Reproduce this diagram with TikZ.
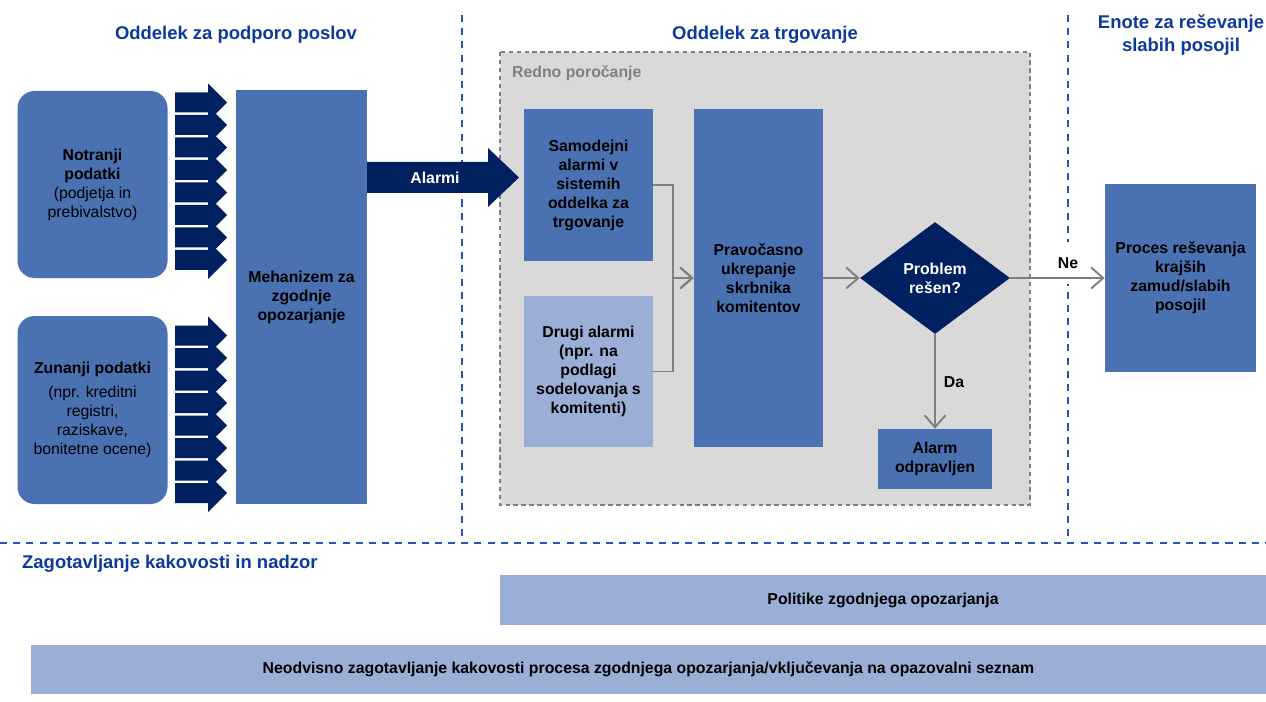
\documentclass[tikz,border=0pt]{standalone}
\usepackage{fontspec}
\setmainfont{Liberation Sans}
\usepackage{tikz}
\usetikzlibrary{arrows.meta}
\usetikzlibrary{shapes.geometric}

\definecolor{midblue}{HTML}{4A72B2}
\definecolor{navy}{HTML}{002060}
\definecolor{paleblue}{HTML}{9BAFD6}
\definecolor{headblue}{HTML}{0B3A9C}
\definecolor{lineblue}{HTML}{2A52B4}
\definecolor{panelgrey}{HTML}{D9D9D9}
\definecolor{darkgrey}{HTML}{7F7F7F}

\begin{document}
\begin{tikzpicture}[x=0.02cm, y=-0.02cm,
	box/.style 2 args={fill=midblue, inner sep=0pt, minimum width=#1*0.02cm, minimum height=#2*0.02cm, align=center, font=\bfseries\fontsize{9}{10.8}\selectfont},
	roundbox/.style 2 args={box={#1}{#2}, rounded corners=0.34cm},
	lightbox/.style 2 args={box={#1}{#2}, fill=paleblue},
	heading/.style={text=headblue, align=center, font=\bfseries\fontsize{10.5}{13}\selectfont},
	divider/.style={lineblue, line width=1.2pt, dash pattern=on 4pt off 3.5pt},
	conn/.style={darkgrey, line width=1.1pt, -{Straight Barb[length=2.4mm, width=4.2mm, line width=1.1pt]}},
	tag/.style={font=\bfseries\fontsize{9}{10.8}\selectfont}]
	\useasboundingbox (0,0) rectangle (1266,702);

	\filldraw[fill=panelgrey, draw=darkgrey, line width=0.8pt, dash pattern=on 2.5pt off 2pt] (500,52) rectangle (1030,505);
	\draw[divider] (462,15) -- (462,543);
	\draw[divider] (1068,15) -- (1068,543);
	\draw[divider] (0,543) -- (1266,543);

	\node[heading] (podpora) at (236,35) {Oddelek za podporo poslov};
	\node[heading] (trgovanje) at (765,35) {Oddelek za trgovanje};
	\node[heading] (enote) at (1181,35) {Enote za reševanje\\slabih posojil};
	\node[heading, anchor=west] (nadzor) at (16,564) {Zagotavljanje kakovosti in nadzor};
	\node[tag, text=darkgrey, anchor=west] (redno) at (506,73) {Redno poročanje};

	\node[roundbox={150}{187}] (notranji) at (92.5,184.5) {Notranji\\podatki\\\mdseries(podjetja in\\\mdseries prebivalstvo)};
	\node[roundbox={150}{188}] (zunanji) at (92.5,410) {Zunanji podatki\\[3pt]\mdseries(npr. kreditni\\\mdseries registri,\\\mdseries raziskave,\\\mdseries bonitetne ocene)};
	\foreach \g in {102.5,335.5}
		\foreach \k in {0,...,7}
			\fill[navy] (175,\g+22.5*\k-10) -- (208,\g+22.5*\k-10) -- (208,\g+22.5*\k-19) -- (227,\g+22.5*\k) -- (208,\g+22.5*\k+19) -- (208,\g+22.5*\k+10) -- (175,\g+22.5*\k+10) -- cycle;
	\node[box={131}{414}] (meh) at (301.5,297) {Mehanizem za\\zgodnje\\opozarjanje};

	\fill[navy] (367,162) -- (488,162) -- (488,148) -- (519,177.5) -- (488,207) -- (488,193) -- (367,193) -- cycle;
	\node[tag, text=white] (alarmi) at (435,178) {Alarmi};

	\node[box={129}{152}] (samo) at (588.5,185) {Samodejni\\alarmi v\\sistemih\\oddelka za\\trgovanje};
	\node[lightbox={129}{151}] (drugi) at (588.5,371.5) {Drugi alarmi\\(npr. na\\podlagi\\sodelovanja s\\komitenti)};
	\node[box={129}{338}] (prav) at (758.5,278) {Pravočasno\\ukrepanje\\skrbnika\\komitentov};
	\node[diamond, fill=navy, text=white, inner sep=0pt, minimum width=150*0.02cm, minimum height=112*0.02cm, align=center, font=\bfseries\fontsize{9}{10.8}\selectfont] (problem) at (935,278) {Problem\\rešen?};
	\node[box={114}{60}] (odpr) at (935,459) {Alarm\\odpravljen};
	\node[box={151}{188}] (proces) at (1180.5,278) {Proces reševanja\\krajših\\zamud/slabih\\posojil};

	\node[tag, fill=white, inner sep=0pt, minimum width=22*0.02cm, minimum height=42*0.02cm] (ne) at (1068,263) {Ne};
	\node[tag] (da) at (954,382) {Da};

	\draw[conn] (samo.east) -- ++(20,0) |- (prav.west);
	\draw[conn] (drugi.east) -- ++(20,0) |- (prav.west);
	\draw[conn] (prav.east) -- (problem.west);
	\draw[conn] (problem.east) -- (proces.west);
	\draw[conn] (problem.south) -- (odpr.north);

	\node[lightbox={766}{50}] (politike) at (883,600) {Politike zgodnjega opozarjanja};
	\node[lightbox={1235}{49}] (neodvisno) at (648.5,669.5) {Neodvisno zagotavljanje kakovosti procesa zgodnjega opozarjanja/vključevanja na opazovalni seznam};
\end{tikzpicture}
\end{document}
